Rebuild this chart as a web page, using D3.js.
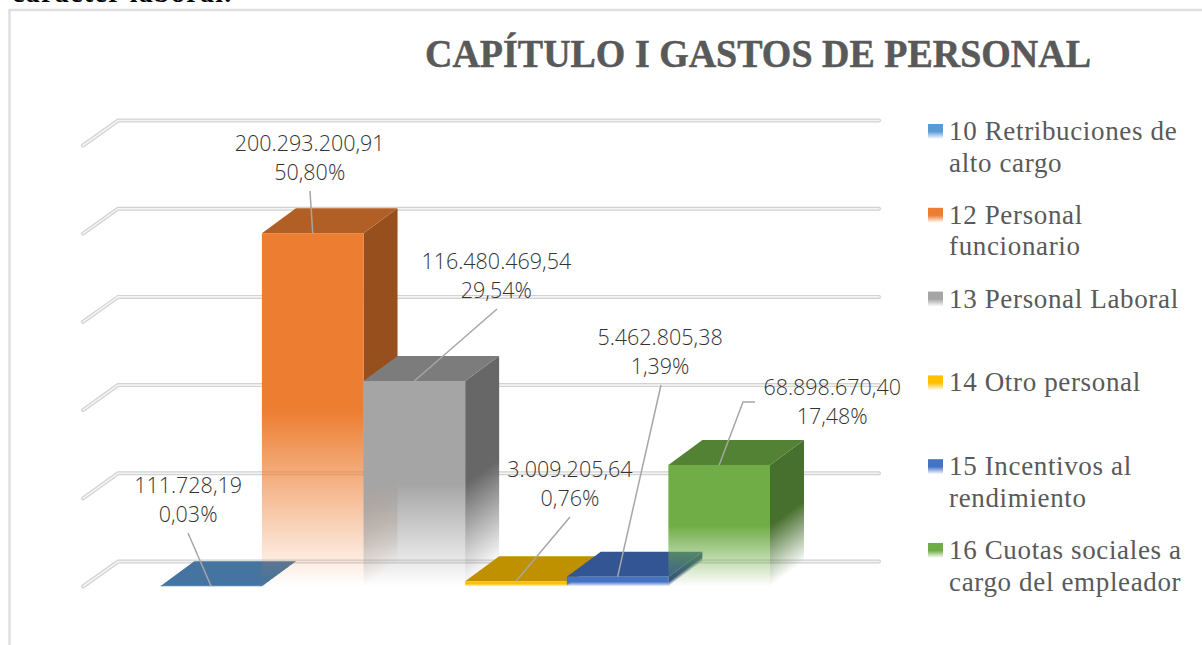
<!DOCTYPE html>
<html lang="es">
<head>
<meta charset="utf-8">
<script src="https://cdn.jsdelivr.net/npm/d3@7"></script>
<style>
html,body{margin:0;padding:0;background:#fff;overflow:hidden}
svg{display:block}
</style>
</head>
<body>
<div id="chart"></div>
<script>
// ---- data ----
const categories = ["10","12","13","14","15","16"];
const legendLines = [
  ["10 Retribuciones de","alto cargo"],
  ["12 Personal","funcionario"],
  ["13 Personal Laboral"],
  ["14 Otro personal"],
  ["15 Incentivos al","rendimiento"],
  ["16 Cuotas sociales a","cargo del empleador"]
];
const values = [111728.19,200293200.91,116480469.54,3009205.64,5462805.38,68898670.40];
const shares = [0.0003,0.5080,0.2954,0.0076,0.0139,0.1748];
const gridTicks = [0,50e6,100e6,150e6,200e6,250e6];
const chartTitle = "CAPÍTULO I GASTOS DE PERSONAL";
const clippedHeading = "carácter laboral.";

// ---- styles ----
const frontColors = ["#5B9BD5","#ED7D31","#A5A5A5","#FFC000","#4472C4","#70AD47"];
const topColors   = ["#44749F","#B25F26","#7C7C7C","#BF9000","#335593","#548235"];
const sideColors  = ["#3A6488","#964F1D","#676767","#A37B00","#2C4A7F","#476F2D"];

const W = 1202, H = 645;
const depthX = 34, depthY = 25;
const fmtLocale = d3.formatLocale({decimal:",",thousands:".",grouping:[3],currency:["",""]});
const fmtValue = fmtLocale.format(",.2f");
const fmtShare = fmtLocale.format(".2%");

const svg = d3.select("#chart").append("svg").attr("width",W).attr("height",H).attr("viewBox",`0 0 ${W} ${H}`);
const x = d3.scaleBand().domain(categories).range([160.3,770]).padding(0);
const y = d3.scaleLinear().domain([0,250e6]).range([586.5,145.5]);
const defs = svg.append("defs");

// chart frame and the clipped line of the host document
svg.append("text").attr("x",12).attr("y",2)
  .attr("font-family","'Liberation Serif',serif").attr("font-weight",700)
  .attr("font-size",28).attr("letter-spacing",1.3).attr("fill","#000").text(clippedHeading);
svg.append("path").attr("d",`M${W},10H9.5V${H}`).attr("fill","none").attr("stroke","#DFDFDF").attr("stroke-width",2.5);

// title
svg.append("text").attr("x",425).attr("y",67)
  .attr("font-family","'Liberation Serif',serif").attr("font-weight",700)
  .attr("font-size",41).attr("textLength",666).attr("lengthAdjust","spacingAndGlyphs")
  .attr("stroke","#595959").attr("stroke-width",0.5)
  .attr("fill","#595959").text(chartTitle);

// 3D gridlines: side wall diagonal + back wall line
const gridLeft = 83, gridRight = 879;
const gridPath = d => `M${gridLeft},${y(d)}L${gridLeft+depthX+1},${y(d)-depthY}H${gridRight}`;
const grid = svg.append("g").attr("fill","none").attr("stroke-linecap","round");
grid.selectAll(".g-o").data(gridTicks).join("path").attr("d",gridPath).attr("stroke","#D2D2D2").attr("stroke-width",4);
grid.selectAll(".g-i").data(gridTicks).join("path").attr("d",gridPath).attr("stroke","#F4F4F4").attr("stroke-width",1.6);

// gradients
const fadeStops = (g,color) => {
  g.append("stop").attr("offset",0).attr("stop-color",color).attr("stop-opacity",1);
  g.append("stop").attr("offset",.5).attr("stop-color",color).attr("stop-opacity",1);
  g.append("stop").attr("offset",1).attr("stop-color",color).attr("stop-opacity",0);
};
const normLen = Math.hypot(depthX,depthY);
categories.forEach((c,i)=>{
  const g = defs.append("linearGradient").attr("id",`front${i}`).attr("x1",0).attr("y1",0).attr("x2",0).attr("y2",1);
  fadeStops(g,frontColors[i]);
  const h = y(0)-y(values[i]), xf = x(c)+x.bandwidth();
  const s = defs.append("linearGradient").attr("id",`side${i}`).attr("gradientUnits","userSpaceOnUse");
  const t = h*(depthX/normLen);
  s.attr("x1",xf).attr("y1",y(values[i]))
   .attr("x2",xf+t*depthY/normLen).attr("y2",y(values[i])+t*depthX/normLen);
  fadeStops(s,sideColors[i]);
});

// bars
const bars = svg.append("g").selectAll("g").data(categories).join("g");
bars.each(function(c,i){
  const g = d3.select(this), x0 = x(c), x1 = x0+x.bandwidth(), yt = y(values[i]), yb = y(0);
  g.append("path").attr("d",`M${x1},${yt}L${x1+depthX},${yt-depthY}V${yb-depthY}L${x1},${yb}Z`).attr("fill",`url(#side${i})`);
  g.append("path").attr("d",`M${x0},${yt}L${x0+depthX},${yt-depthY}H${x1+depthX}L${x1},${yt}Z`).attr("fill",topColors[i]);
  g.append("rect").attr("x",x0).attr("y",Math.min(yt,yb-1)).attr("width",x.bandwidth()).attr("height",Math.max(yb-yt,1)).attr("fill",`url(#front${i})`);
});

// data labels with leader lines
const labelOffsets = [
  {dx:-23,base:493,leader:[[188,533]]},
  {dx:-3,base:151,leader:[[310,191]]},
  {dx:82,base:269,leader:[[497,309]]},
  {dx:54,base:477,leader:[[570,517]]},
  {dx:42.5,base:345,leader:[[661,385]]},
  {dx:113,base:395,leader:[[755,402],[743,402]]}
];
const labels = svg.append("g");
categories.forEach((c,i)=>{
  const cx = x(c)+x.bandwidth()/2, o = labelOffsets[i];
  const pts = [...o.leader,[cx,y(values[i])]];
  labels.append("path").attr("d",d3.line()(pts)).attr("fill","none").attr("stroke","#A6A6A6").attr("stroke-width",1.5);
  const t = labels.append("text").attr("text-anchor","middle")
    .attr("font-family","'Open Sans',sans-serif").attr("font-weight",300).attr("font-size",21.5).attr("fill","#333");
  t.append("tspan").attr("x",cx+o.dx).attr("y",o.base).text(fmtValue(values[i]));
  t.append("tspan").attr("x",cx+o.dx).attr("y",o.base+29).text(fmtShare(shares[i]));
});

// legend
const legendY = d3.scalePoint().domain(categories).range([124,543]);
const legend = svg.append("g").selectAll("g").data(categories).join("g");
legend.each(function(c,i){
  const g = d3.select(this), ly = legendY(c);
  g.append("rect").attr("x",928).attr("y",ly).attr("width",15).attr("height",15).attr("fill",`url(#front${i})`);
  const t = g.append("text").attr("font-family","'Liberation Serif',serif").attr("font-size",27).attr("letter-spacing",0.65).attr("fill","#595959");
  legendLines[i].forEach((ln,j)=>t.append("tspan").attr("x",949).attr("y",ly+16+j*31.5).text(ln));
});
</script>
</body>
</html>
